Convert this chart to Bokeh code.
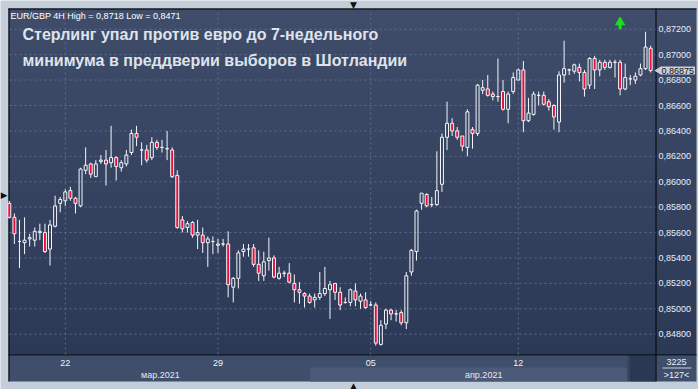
import numpy as np
from bokeh.plotting import figure
from bokeh.models import ColumnDataSource, Range1d, BoxAnnotation, Label
from bokeh.core.properties import value
from bokeh.embed import file_html
from bokeh.resources import INLINE

# ---- data: EUR/GBP 4H candles (127 visible bars) ----
opens = [0.8583, 0.8572, 0.8553, 0.8552, 0.8555, 0.8554, 0.8561, 0.8560, 0.8547, 0.8565,
         0.8583, 0.8585, 0.8593, 0.8587, 0.8581, 0.8609, 0.8614, 0.8604, 0.8616, 0.8617,
         0.8615, 0.8619, 0.8611, 0.8614, 0.8623, 0.8638, 0.8625, 0.8625, 0.8619, 0.8631,
         0.8627, 0.8626, 0.8625, 0.8605, 0.8570, 0.8564, 0.8568, 0.8558, 0.8558, 0.8552,
         0.8553, 0.8550, 0.8551, 0.8551, 0.8517, 0.8524, 0.8545, 0.8547, 0.8548, 0.8535,
         0.8526, 0.8538, 0.8540, 0.8524, 0.8528, 0.8528, 0.8520, 0.8515, 0.8512, 0.8510,
         0.8507, 0.8509, 0.8512, 0.8515, 0.8520, 0.8513, 0.8505, 0.8505, 0.8514, 0.8506,
         0.8507, 0.8503, 0.8503, 0.8472, 0.8488, 0.8499, 0.8496, 0.8497, 0.8489, 0.8529,
         0.8545, 0.8583, 0.8590, 0.8582, 0.8582, 0.8598, 0.8635, 0.8646, 0.8640, 0.8636,
         0.8627, 0.8641, 0.8638, 0.8672, 0.8673, 0.8669, 0.8667, 0.8671, 0.8657, 0.8671,
         0.8680, 0.8688, 0.8648, 0.8653, 0.8668, 0.8668, 0.8663, 0.8660, 0.8647, 0.8684,
         0.8688, 0.8687, 0.8690, 0.8686, 0.8676, 0.8697, 0.8688, 0.8694, 0.8690, 0.8694,
         0.8694, 0.8673, 0.8681, 0.8680, 0.8684, 0.8689, 0.8705]
highs = [0.8585, 0.8575, 0.8570, 0.8572, 0.8559, 0.8564, 0.8567, 0.8567, 0.8570, 0.8589,
         0.8588, 0.8594, 0.8596, 0.8588, 0.8611, 0.8627, 0.8615, 0.8617, 0.8621, 0.8625,
         0.8644, 0.8620, 0.8617, 0.8625, 0.8641, 0.8644, 0.8631, 0.8629, 0.8635, 0.8633,
         0.8633, 0.8640, 0.8627, 0.8609, 0.8573, 0.8569, 0.8569, 0.8570, 0.8564, 0.8557,
         0.8557, 0.8555, 0.8555, 0.8561, 0.8525, 0.8546, 0.8551, 0.8551, 0.8551, 0.8546,
         0.8545, 0.8556, 0.8542, 0.8533, 0.8530, 0.8536, 0.8527, 0.8521, 0.8513, 0.8512,
         0.8512, 0.8529, 0.8533, 0.8522, 0.8520, 0.8517, 0.8509, 0.8516, 0.8520, 0.8512,
         0.8513, 0.8506, 0.8505, 0.8491, 0.8500, 0.8500, 0.8499, 0.8499, 0.8529, 0.8547,
         0.8578, 0.8591, 0.8591, 0.8588, 0.8624, 0.8638, 0.8663, 0.8650, 0.8643, 0.8636,
         0.8657, 0.8643, 0.8677, 0.8680, 0.8684, 0.8671, 0.8697, 0.8680, 0.8671, 0.8686,
         0.8689, 0.8695, 0.8666, 0.8671, 0.8671, 0.8671, 0.8665, 0.8661, 0.8687, 0.8711,
         0.8689, 0.8693, 0.8693, 0.8688, 0.8698, 0.8699, 0.8696, 0.8696, 0.8696, 0.8696,
         0.8696, 0.8693, 0.8684, 0.8686, 0.8693, 0.8718, 0.8707]
lows = [0.8571, 0.8551, 0.8532, 0.8543, 0.8549, 0.8549, 0.8554, 0.8544, 0.8534, 0.8564,
        0.8576, 0.8581, 0.8585, 0.8575, 0.8580, 0.8606, 0.8603, 0.8604, 0.8614, 0.8597,
        0.8611, 0.8601, 0.8608, 0.8612, 0.8621, 0.8628, 0.8613, 0.8615, 0.8617, 0.8625,
        0.8623, 0.8617, 0.8603, 0.8563, 0.8560, 0.8560, 0.8556, 0.8547, 0.8544, 0.8533,
        0.8543, 0.8544, 0.8549, 0.8509, 0.8505, 0.8516, 0.8541, 0.8541, 0.8533, 0.8522,
        0.8522, 0.8530, 0.8524, 0.8523, 0.8525, 0.8520, 0.8505, 0.8504, 0.8501, 0.8504,
        0.8501, 0.8507, 0.8510, 0.8492, 0.8507, 0.8499, 0.8504, 0.8502, 0.8502, 0.8500,
        0.8500, 0.8502, 0.8471, 0.8471, 0.8484, 0.8491, 0.8490, 0.8487, 0.8484, 0.8526,
        0.8538, 0.8578, 0.8580, 0.8580, 0.8581, 0.8592, 0.8625, 0.8636, 0.8633, 0.8624,
        0.8620, 0.8626, 0.8636, 0.8669, 0.8667, 0.8664, 0.8663, 0.8656, 0.8646, 0.8669,
        0.8680, 0.8639, 0.8647, 0.8652, 0.8660, 0.8660, 0.8656, 0.8641, 0.8639, 0.8678,
        0.8684, 0.8685, 0.8679, 0.8667, 0.8673, 0.8673, 0.8683, 0.8688, 0.8689, 0.8682,
        0.8668, 0.8672, 0.8676, 0.8677, 0.8683, 0.8688, 0.8686]
closes = [0.8572, 0.8559, 0.8553, 0.8554, 0.8556, 0.8561, 0.8560, 0.8545, 0.8566, 0.8581,
          0.8586, 0.8592, 0.8587, 0.8583, 0.8610, 0.8613, 0.8606, 0.8614, 0.8617, 0.8614,
          0.8619, 0.8612, 0.8615, 0.8621, 0.8638, 0.8635, 0.8625, 0.8617, 0.8631, 0.8627,
          0.8627, 0.8626, 0.8604, 0.8564, 0.8563, 0.8567, 0.8558, 0.8560, 0.8552, 0.8555,
          0.8553, 0.8551, 0.8551, 0.8519, 0.8524, 0.8544, 0.8547, 0.8547, 0.8535, 0.8528,
          0.8537, 0.8540, 0.8525, 0.8528, 0.8528, 0.8521, 0.8515, 0.8513, 0.8510, 0.8505,
          0.8509, 0.8512, 0.8516, 0.8519, 0.8513, 0.8503, 0.8505, 0.8515, 0.8507, 0.8510,
          0.8501, 0.8503, 0.8473, 0.8487, 0.8499, 0.8496, 0.8496, 0.8489, 0.8526, 0.8546,
          0.8577, 0.8591, 0.8581, 0.8582, 0.8593, 0.8635, 0.8646, 0.8640, 0.8635, 0.8628,
          0.8655, 0.8638, 0.8676, 0.8674, 0.8668, 0.8667, 0.8667, 0.8657, 0.8669, 0.8682,
          0.8688, 0.8648, 0.8654, 0.8669, 0.8668, 0.8661, 0.8659, 0.8651, 0.8684, 0.8689,
          0.8688, 0.8692, 0.8686, 0.8673, 0.8697, 0.8688, 0.8694, 0.8690, 0.8694, 0.8694,
          0.8673, 0.8682, 0.8681, 0.8683, 0.8689, 0.8706, 0.86875]

y_ticks = [0.848, 0.850, 0.852, 0.854, 0.856, 0.858, 0.860, 0.862,
           0.864, 0.866, 0.868, 0.870, 0.872]
day_tick_bars = [11, 41, 71, 100]
day_tick_labels = ["22", "29", "05", "12"]
month_labels = ["мар.2021", "апр.2021"]
month_label_bars = [29.7, 93.2]
signal_bars = [120]
signal_prices = [0.87245]
last_price = 0.86875
header_text = "EUR/GBP 4H High = 0,8718 Low = 0,8471"
title_lines = ["Стерлинг упал против евро до 7-недельного",
               "минимума в преддверии выборов в Шотландии"]
bars_total = "3225"
bars_visible = ">127<"

# ---- styling / geometry ----
BG_TOP = (0x3f, 0x4d, 0x6b)
BG_BOT = (0x2b, 0x39, 0x56)
GRAY = "#c3ced9"
RED = "#e5113a"
WHITE = "#f4f6fa"
GRID = "#5f6d89"
FONT = "Liberation Sans"

def mix(t):
    r = [int(round(a + (b - a) * t)) for a, b in zip(BG_TOP, BG_BOT)]
    return "#%02x%02x%02x" % tuple(r)

W, H = 698, 389
BAR_PX, BAR0_PX = 5.09, 8.8          # pixel spacing of bars, pixel of bar 0
PX_PER_PRICE = 1 / 0.0000787
REF_PRICE, REF_PY = 0.866, 105

def xd(px):
    return (px - BAR0_PX) / BAR_PX

def yd(py):
    return REF_PRICE - (py - REF_PY) / PX_PER_PRICE

p = figure(width=W, height=H, output_backend="svg", toolbar_location=None,
           x_axis_type=None, y_axis_type=None,
           x_range=Range1d(xd(0), xd(W)), y_range=Range1d(yd(H), yd(0)),
           min_border=0, min_border_left=0, min_border_right=0,
           min_border_top=0, min_border_bottom=0)
p.border_fill_color = GRAY
p.background_fill_color = GRAY
p.outline_line_color = None
p.xgrid.visible = False if p.xgrid else None
p.ygrid.visible = False if p.ygrid else None

def cbox(l, r, t, b, color, level="underlay"):
    p.add_layout(BoxAnnotation(left=l, right=r, top=t, bottom=b,
                               left_units="canvas", right_units="canvas",
                               top_units="canvas", bottom_units="canvas",
                               fill_color=color, fill_alpha=1, line_color=None,
                               level=level))

# gradient background of plotting area + price scale column
N = 64
grad = np.arange(N, dtype=float).reshape(N, 1)
pal = [mix(1 - i / (N - 1)) for i in range(N)]
p.image(image=[grad], x=xd(8), y=yd(355), dw=xd(696) - xd(8), dh=yd(8) - yd(355),
        palette=pal, level="image")

# time scale area
cbox(8, 696, 355, 381, "#3e4e6b")
cbox(310, 627, 367, 381, "#4a5a78")
cbox(627, 628, 355, 381, "#2e3c57")
cbox(629, 655, 355, 381, "#2a3853")
cbox(662, 691, 367, 368, "#c9d2de")
# frame lines
cbox(8, 9, 8, 381, "#000000")
cbox(8, 696, 8, 9, "#000000")
cbox(655, 656, 8, 381, "#000000")
cbox(8, 696, 354, 355, "#000000")

# dashed grid
gx0, gx1 = xd(9), xd(655)
p.segment(x0=[gx0] * len(y_ticks), y0=y_ticks, x1=[gx1] * len(y_ticks), y1=y_ticks,
          line_color=GRID, line_width=1, line_dash="2 3")
gy0, gy1 = yd(354), yd(9)
p.segment(x0=day_tick_bars, y0=[gy0] * len(day_tick_bars), x1=day_tick_bars,
          y1=[gy1] * len(day_tick_bars), line_color=GRID, line_width=1, line_dash="2 3")

# candles
xs = list(range(len(opens)))
tops = [max(o, c) for o, c in zip(opens, closes)]
bots = [min(o, c) for o, c in zip(opens, closes)]
up = [c >= o for o, c in zip(opens, closes)]
src = ColumnDataSource(dict(
    x=xs, high=highs, low=lows, top=tops, bottom=bots,
    fill=[RED if not u else "#000000" for u in up],
    alpha=[0.0 if u else 1.0 for u in up]))
p.segment(x0="x", y0="top", x1="x", y1="high", source=src, line_color=WHITE, line_width=1)
p.segment(x0="x", y0="low", x1="x", y1="bottom", source=src, line_color=WHITE, line_width=1)
p.vbar(x="x", top="top", bottom="bottom", width=0.58, source=src,
       fill_color="fill", fill_alpha="alpha", line_color=WHITE, line_width=1)

# signal arrow
p.segment(x0=signal_bars, y0=[v - 0.00045 for v in signal_prices], x1=signal_bars,
          y1=signal_prices, line_color="#19e219", line_width=3)
p.scatter(x=signal_bars, y=[v + 0.0001 for v in signal_prices], marker="triangle",
          size=9, fill_color="#19e219", line_color="#19e219")

# price scale labels
fmt = [",".join(f"{t:.5f}".split(".")) for t in y_ticks]
p.text(x=[xd(658)] * len(y_ticks), y=y_ticks, text=fmt, text_font=value(FONT),
       text_font_size="9px", text_color="#e6eefa", text_baseline="middle",
       text_align="left")

# time scale labels
p.text(x=day_tick_bars, y=[yd(362)] * len(day_tick_bars), text=day_tick_labels,
       text_font=value(FONT), text_font_size="9px", text_color="#eef2f8",
       text_baseline="middle", text_align="center")
p.text(x=month_label_bars, y=[yd(374)] * len(month_labels), text=month_labels,
       text_font=value(FONT), text_font_size="9px", text_color="#e4eaf4",
       text_baseline="middle", text_align="center")

# current price tag
p.scatter(x=[xd(658.5)], y=[last_price], marker="triangle", angle=np.pi / 2, size=7,
          fill_color="#c9d0da", line_color="#c9d0da")
p.add_layout(Label(x=660, y=last_price, x_units="canvas", y_units="data",
                   text=",".join(f"{last_price:.5f}".split(".")),
                   text_font=FONT, text_font_size="9px", text_color="#111111",
                   text_baseline="middle", background_fill_color="#c9d0da",
                   background_fill_alpha=1, padding=1))

def clabel(x, y, text, size, color, style="normal", align="left", font=FONT):
    p.add_layout(Label(x=x, y=y, x_units="canvas", y_units="canvas", text=text,
                       text_font=font, text_font_size=size, text_color=color,
                       text_font_style=style, text_align=align,
                       text_baseline="middle"))

clabel(10, 15, header_text, "9px", "#ffffff")
clabel(22, 34, title_lines[0], "16px", "#dfe3ea", "bold")
clabel(22, 60, title_lines[1], "16px", "#dfe3ea", "bold")
clabel(676, 361, bars_total, "9px", "#e8eef8", align="center")
clabel(676, 374, bars_visible, "9px", "#e8eef8", align="center")
clabel(0, 194, "▶", "9px", "#111111", font="DejaVu Sans")
clabel(353, 4, "▼", "9px", "#111111", align="center", font="DejaVu Sans")
clabel(353, 385, "▲", "9px", "#111111", align="center", font="DejaVu Sans")

open("out.html", "w").write(file_html(p, INLINE))
